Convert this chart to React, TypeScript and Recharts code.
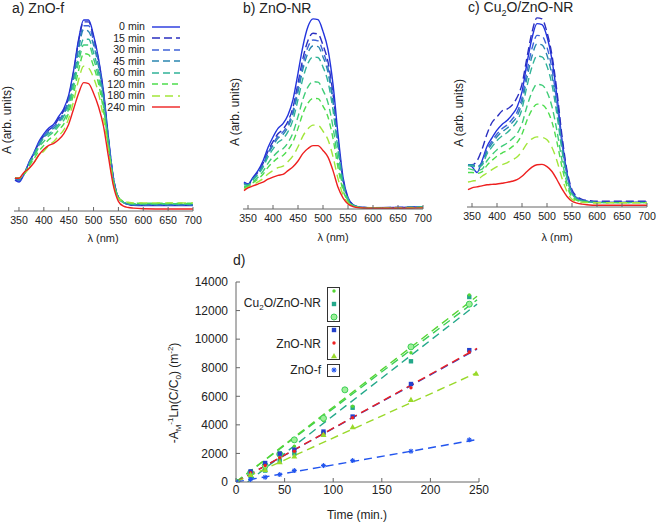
import React from "react";
import { LineChart, Line, XAxis, YAxis, ComposedChart, Scatter } from "recharts";

// longueurs d'onde (nm) communes aux trois spectres
const W = [342, 350, 360, 370, 380, 390, 400, 410, 420, 430, 440, 450, 460, 470, 480, 490, 500, 510, 520, 530, 540, 550, 560, 570, 580, 600, 650, 700];
const W_TICKS = [350, 400, 450, 500, 550, 600, 650, 700];

// a) ZnO-f  (absorbance, % de la hauteur du cadre)
const a0 = [16, 15, 19, 25, 30, 36, 40, 43, 45, 49, 53, 60, 73, 89, 99, 99, 91, 79, 62, 38, 17, 7, 4.5, 3.5, 3, 2.8, 2.8, 2.8];
const a15 = [16, 16, 19, 25, 30, 35, 39, 42, 44, 48, 52, 59, 72, 88, 98, 98, 90, 78, 61, 37, 17, 7, 4.5, 3.5, 3, 3, 3, 3];
const a30 = [17, 16, 19, 25, 30, 35, 39, 42, 44, 47, 51, 58, 70, 86, 96, 96, 88, 77, 60, 37, 17, 7, 4.5, 3.5, 3.2, 3.2, 3.2, 3.2];
const a45 = [17, 16, 19, 24, 29, 34, 38, 41, 43, 46, 50, 57, 69, 84, 94, 93, 86, 75, 59, 36, 16, 7, 4.5, 3.5, 3.2, 3.2, 3.2, 3.2];
const a60 = [17, 17, 19, 24, 29, 34, 38, 40, 42, 45, 49, 55, 66, 80, 89, 89, 82, 72, 56, 35, 16, 7, 4.5, 3.8, 3.5, 3.5, 3.5, 3.5];
const a90 = [17, 17, 19, 24, 28, 33, 36, 39, 41, 44, 47, 53, 64, 77, 86, 86, 79, 69, 54, 34, 15, 7, 4.5, 4, 3.8, 3.8, 3.8, 3.8];
const a120 = [17, 17, 19, 23, 27, 31, 34, 37, 39, 42, 45, 51, 61, 73, 81.5, 81, 75, 66, 52, 33, 15, 7, 5, 4.2, 4, 4, 4, 4];
const a180 = [17, 17, 19, 22, 25, 29, 31, 34, 36, 39, 42, 48, 57, 68, 75, 74, 69, 61, 48, 31, 14, 6.5, 5, 4.5, 4.2, 4.2, 4.2, 4.2];
const a240 = [17, 17, 20, 22, 25, 29, 32, 34, 35, 37, 40, 45, 53, 61, 66.5, 66, 61, 54, 44, 28, 13, 5, 2.5, 1.8, 1.5, 1.2, 1, 1];

// b) ZnO-NR
const b0 = [14, 13, 16.5, 20, 25, 32, 37.5, 42, 44.5, 49, 57, 70.7, 85, 95, 99, 98.6, 92.5, 83, 65, 39, 16.6, 6, 2.3, 1.2, 0.8, 0.7, 0.8, 1.2];
const b15 = [13.5, 12.8, 16, 19.2, 23.7, 30.1, 35.1, 39.2, 41.5, 45.7, 53, 65.5, 78.6, 87.8, 91.5, 91.1, 85.4, 76.6, 59.9, 35.8, 15.4, 5.6, 2.2, 1.1, 0.8, 0.7, 0.8, 1.1];
const b30 = [13.3, 12.7, 15.7, 18.8, 23.2, 29.2, 34, 37.9, 40.1, 44.2, 51.2, 63.1, 75.6, 84.4, 88, 87.6, 82.1, 73.6, 57.5, 34.4, 14.8, 5.4, 2.1, 1.1, 0.8, 0.65, 0.75, 1.1];
const b45 = [13.1, 12.6, 15.5, 18.5, 22.6, 28.5, 33, 36.8, 38.8, 42.8, 49.5, 60.9, 73, 81.4, 84.9, 84.6, 79.2, 71, 55.4, 33.1, 14.3, 5.3, 2, 1.1, 0.75, 0.65, 0.7, 1.1];
const b60 = [12.7, 12.4, 15.2, 17.9, 21.7, 27.1, 31.2, 34.7, 36.6, 40.3, 46.5, 57, 68.2, 76, 79.2, 78.9, 73.9, 66.2, 51.5, 30.7, 13.4, 5, 2, 1, 0.7, 0.6, 0.7, 1];
const b90 = [11.8, 12, 14.3, 16.5, 19.6, 23.8, 27.2, 29.9, 31.4, 34.6, 39.7, 48.1, 57.3, 63.6, 66.3, 66.1, 61.8, 55.3, 42.7, 25.3, 11.3, 4.3, 1.8, 1, 0.65, 0.55, 0.6, 0.9];
const b120 = [11.2, 11.7, 13.7, 15.6, 18.1, 21.7, 24.4, 26.6, 27.9, 30.8, 35.1, 42, 49.9, 55.2, 57.6, 57.5, 53.6, 47.9, 36.8, 21.6, 9.8, 3.9, 1.6, 0.9, 0.6, 0.5, 0.55, 0.8];
const b180 = [10.3, 11.3, 12.7, 14.1, 15.8, 18.2, 20, 21.5, 22.3, 24.7, 27.7, 32.4, 38.1, 41.8, 43.7, 43.6, 40.5, 36.1, 27.3, 15.8, 7.5, 3.2, 1.4, 0.8, 0.55, 0.45, 0.45, 0.7];
const b240 = [9.6, 11, 12, 13, 14, 15.5, 16.6, 17.5, 18, 20, 22, 25, 29, 31.5, 33, 33, 30.5, 27, 20, 11.3, 5.8, 2.6, 1.2, 0.7, 0.5, 0.4, 0.4, 0.6];

// c) Cu2O/ZnO-NR
const c0 = [22, 21, 18, 24, 31.5, 36, 40, 43, 45, 48, 52, 60, 75, 88, 95.5, 95, 88.7, 76.6, 57.5, 35, 17.7, 8, 4.7, 3.5, 3, 2.4, 2.4, 2.4];
const c15 = [22, 22, 24, 30, 38, 44, 47, 50, 51, 53, 57, 64, 78, 91, 98.5, 98, 91, 79, 60, 37, 19, 9, 5.5, 4, 3.5, 3, 3, 3];
const c30 = [22, 22, 21, 23.2, 30.1, 34.3, 38, 40.8, 42.7, 45.6, 49.3, 56.8, 70.7, 82.6, 89.4, 89, 83.2, 71.9, 54, 33, 16.7, 7.6, 4.6, 3.4, 2.9, 2.4, 2.4, 2.4];
const c45 = [22, 22, 21, 22.6, 29, 33, 36.6, 39.2, 41, 43.8, 47.3, 54.4, 67.4, 78.5, 84.9, 84.4, 79, 68.4, 51.5, 31.4, 16, 7.3, 4.5, 3.3, 2.9, 2.4, 2.4, 2.4];
const c60 = [21.5, 21.5, 20.5, 21.7, 27.6, 31.3, 34.6, 37, 38.7, 41.3, 44.6, 51.1, 63, 73, 78.6, 78.2, 73.3, 63.6, 47.9, 29.3, 14.9, 6.9, 4.3, 3.2, 2.8, 2.3, 2.3, 2.3];
const c90 = [20, 19.5, 19, 19.7, 24.1, 27.2, 29.8, 31.7, 33.2, 35.4, 38.1, 43.4, 52.5, 59.9, 63.9, 63.5, 59.9, 52.2, 39.5, 24.3, 12.5, 5.9, 3.8, 3, 2.6, 2.3, 2.3, 2.3];
const c120 = [18, 18, 17.5, 18.3, 21.7, 24.3, 26.5, 28.1, 29.4, 31.3, 33.5, 38, 45.2, 50.7, 53.6, 53.3, 50.6, 44.2, 33.7, 20.8, 10.8, 5.2, 3.5, 2.8, 2.5, 2.3, 2.3, 2.3];
const c180 = [13, 13.5, 14, 16, 17.7, 19.5, 21, 22, 23, 24.5, 26, 29, 33, 35.5, 36.5, 36.3, 35, 31, 24, 15, 8, 4, 3, 2.5, 2.3, 2.2, 2.2, 2.2];
const c240 = [9, 10, 10.5, 11, 11.6, 11.8, 12, 12.4, 12.8, 13.4, 14.2, 16, 18.5, 20.8, 22, 22.2, 21, 18.5, 14.2, 9.4, 5.5, 3, 2, 1.5, 1.2, 0.9, 0.9, 0.9];

const SERIES_KEYS = ["0", "15", "30", "45", "60", "90", "120", "180", "240"];
const LEGEND_KEYS = ["0", "15", "30", "45", "60", "120", "180", "240"];

// d) cinétique
const T = [0, 15, 30, 45, 60, 90, 120, 180, 240];
const cuDot = [0, 500, 1000, 1700, 2500, 4300, 5300, 9050, 13100];
const cuSquare = [0, 400, 800, 1500, 2000, 3400, 5200, 8450, 12950];
const cuCircleT = [0, 15, 30, 45, 60, 90, 112, 180, 240];
const cuCircle = [0, 650, 1150, 1950, 2950, 4460, 6450, 9460, 12450];
const nrSquare = [0, 740, 1330, 1980, 2260, 3530, 4580, 6860, 9230];
const nrRed = [0, 650, 1150, 1700, 2150, 3350, 4500, 6600, 9100];
const nrTriT = [0, 15, 30, 45, 60, 90, 120, 180, 247];
const nrTri = [0, 500, 850, 1400, 1800, 3300, 3850, 5750, 7600];
const fBlue = [0, 180, 330, 520, 800, 1150, 1500, 2150, 2950];

const FIT_T = [0, 248];
const fitCuDot = [0, 13000];
const fitCuSquareT = [12, 248];
const fitCuSquare = [0, 12450];
const fitCuCircle = [0, 12750];
const fitNrSquare = [0, 9300];
const fitNrRed = [0, 9350];
const fitNrTri = [0, 7650];
const fitF = [0, 2970];

const T_TICKS = [0, 50, 100, 150, 200, 250];
const V_TICKS = [0, 2000, 4000, 6000, 8000, 10000, 12000, 14000];

const FONT = "'Liberation Sans', Arial, sans-serif";
const FRAME = "#666";

const STYLE: Record<string, { color: string; dash?: string }> = {
  "0": { color: "#2233dd" },
  "15": { color: "#2a2fc0", dash: "8 4" },
  "30": { color: "#3f63d8", dash: "7 4" },
  "45": { color: "#2a86b0", dash: "7 4" },
  "60": { color: "#30b398", dash: "7 4" },
  "90": { color: "#3fcc78", dash: "7 4" },
  "120": { color: "#4ddd4d", dash: "6 4" },
  "180": { color: "#a2e63a", dash: "8 5" },
  "240": { color: "#ee2020" },
};

function buildRows(series: number[][]) {
  return W.map((w, i) => {
    const r: Record<string, number> = { w };
    series.forEach((s, k) => (r["s" + SERIES_KEYS[k]] = s[i]));
    return r;
  });
}

function pairs(ts: number[], vs: number[]) {
  return ts.map((t, i) => ({ t, v: vs[i] }));
}

function Spectrum({ left, width, margin, series }: { left: number; width: number; margin: any; series: number[][] }) {
  const rows = buildRows(series);
  return (
    <div style={{ position: "absolute", left, top: 0 }}>
      <LineChart width={width} height={250} data={rows} margin={margin}>
        <XAxis xAxisId="b" dataKey="w" type="number" domain={[340, 700]} ticks={W_TICKS} interval={0}
          allowDataOverflow height={30} tickSize={-4} tickMargin={9} stroke={FRAME}
          tick={{ fontSize: 10.6, fill: "#222", fontFamily: FONT }} />
        <XAxis xAxisId="t" orientation="top" dataKey="w" type="number" domain={[340, 700]} ticks={W_TICKS}
          interval={0} allowDataOverflow height={0} tickSize={-4} tick={false} stroke={FRAME} />
        <YAxis yAxisId="l" type="number" domain={[0, 100]} allowDataOverflow width={0} tick={false} tickLine={false} stroke={FRAME} />
        <YAxis yAxisId="r" orientation="right" type="number" domain={[0, 100]} width={0} tick={false} tickLine={false} stroke={FRAME} />
        {SERIES_KEYS.map((k) => (
          <Line key={k} xAxisId="b" yAxisId="l" type="monotone" dataKey={"s" + k} stroke={STYLE[k].color}
            strokeWidth={1.4} strokeDasharray={STYLE[k].dash} dot={false} isAnimationActive={false} />
        ))}
      </LineChart>
    </div>
  );
}

const txt = (extra: React.CSSProperties): React.CSSProperties => ({
  position: "absolute", fontFamily: FONT, color: "#222", whiteSpace: "nowrap", lineHeight: 1, ...extra,
});

function RotLabel({ cx, cy, size, children }: { cx: number; cy: number; size: number; children: React.ReactNode }) {
  return (
    <div style={txt({ left: cx, top: cy, fontSize: size, transform: "translate(-50%, -50%) rotate(-90deg)" })}>{children}</div>
  );
}

function SpecLegend() {
  return (
    <div style={{ position: "absolute", left: 96, top: 21 }}>
      {LEGEND_KEYS.map((k) => (
        <div key={k} style={{ display: "flex", alignItems: "center", height: 11.5 }}>
          <span style={txt({ position: "static", width: 49, textAlign: "right", fontSize: 10.6 })}>{k} min</span>
          <svg width={36} height={10} style={{ marginLeft: 7 }}>
            <line x1={0} x2={28} y1={5} y2={5} stroke={STYLE[k].color} strokeWidth={1.4} strokeDasharray={STYLE[k].dash} />
          </svg>
        </div>
      ))}
    </div>
  );
}

const mk = {
  dot: (c: string) => (p: any) => <circle cx={p.cx} cy={p.cy} r={1.7} fill={c} />,
  square: (c: string) => (p: any) => <rect x={p.cx - 2.2} y={p.cy - 2.2} width={4.4} height={4.4} fill={c} />,
  circle: (c: string) => (p: any) => <circle cx={p.cx} cy={p.cy} r={3} fill="#9ef09a" stroke={c} strokeWidth={1} />,
  tri: (c: string) => (p: any) => <path d={`M${p.cx},${p.cy - 3}L${p.cx + 3},${p.cy + 2.2}L${p.cx - 3},${p.cy + 2.2}Z`} fill={c} />,
  star: (c: string) => (p: any) => (
    <g stroke={c} strokeWidth={1.1}>
      <line x1={p.cx - 2.5} x2={p.cx + 2.5} y1={p.cy} y2={p.cy} />
      <line x1={p.cx} x2={p.cx} y1={p.cy - 2.5} y2={p.cy + 2.5} />
      <line x1={p.cx - 1.8} x2={p.cx + 1.8} y1={p.cy - 1.8} y2={p.cy + 1.8} />
      <line x1={p.cx - 1.8} x2={p.cx + 1.8} y1={p.cy + 1.8} y2={p.cy - 1.8} />
    </g>
  ),
};

const C = {
  cuDot: "#55d633", cuSquare: "#23a88a", cuCircle: "#3ccf55",
  nrSquare: "#2340cc", nrRed: "#ee2020", nrTri: "#99d92a", f: "#2255ee",
};

const SCATTERS = [
  { ts: T, vs: cuSquare, shape: mk.square(C.cuSquare) },
  { ts: T, vs: cuDot, shape: mk.dot(C.cuDot) },
  { ts: cuCircleT, vs: cuCircle, shape: mk.circle(C.cuCircle) },
  { ts: T, vs: nrSquare, shape: mk.square(C.nrSquare) },
  { ts: T, vs: nrRed, shape: mk.dot(C.nrRed) },
  { ts: nrTriT, vs: nrTri, shape: mk.tri(C.nrTri) },
  { ts: T, vs: fBlue, shape: mk.star(C.f) },
];

const FITS = [
  { ts: fitCuSquareT, vs: fitCuSquare, color: C.cuSquare },
  { ts: FIT_T, vs: fitCuCircle, color: C.cuCircle },
  { ts: FIT_T, vs: fitCuDot, color: C.cuDot },
  { ts: FIT_T, vs: fitNrSquare, color: C.nrSquare },
  { ts: FIT_T, vs: fitNrRed, color: C.nrRed },
  { ts: FIT_T, vs: fitNrTri, color: C.nrTri },
  { ts: FIT_T, vs: fitF, color: C.f },
];

function Kinetics() {
  return (
    <div style={{ position: "absolute", left: 160, top: 250 }}>
      <ComposedChart width={340} height={273} margin={{ top: 32, right: 21, bottom: 11, left: 31 }}>
        <XAxis xAxisId="b" dataKey="t" type="number" domain={[0, 250]} ticks={T_TICKS} interval={0} allowDataOverflow
          height={30} tickSize={-4} tickMargin={7} stroke={FRAME} tick={{ fontSize: 12, fill: "#222", fontFamily: FONT }} />
        <XAxis xAxisId="t" orientation="top" dataKey="t" type="number" domain={[0, 250]} ticks={T_TICKS} interval={0}
          height={0} tickSize={-4} tick={false} stroke={FRAME} />
        <YAxis yAxisId="l" dataKey="v" type="number" domain={[0, 14000]} ticks={V_TICKS} interval={0} allowDataOverflow
          width={45} tickSize={-4} tickMargin={12} stroke={FRAME} tick={{ fontSize: 12, fill: "#222", fontFamily: FONT }} />
        <YAxis yAxisId="r" orientation="right" dataKey="v" type="number" domain={[0, 14000]} ticks={V_TICKS} interval={0}
          width={0} tickSize={-4} tick={false} stroke={FRAME} />
        {FITS.map((f, i) => (
          <Line key={"f" + i} xAxisId="b" yAxisId="l" data={pairs(f.ts, f.vs)} dataKey="v" type="linear" stroke={f.color}
            strokeWidth={1.4} strokeDasharray="8 5" dot={false} isAnimationActive={false} />
        ))}
        {SCATTERS.map((s, i) => (
          <Scatter key={"s" + i} xAxisId="b" yAxisId="l" data={pairs(s.ts, s.vs)} dataKey="v" shape={s.shape}
            isAnimationActive={false} />
        ))}
      </ComposedChart>
    </div>
  );
}

function KinLegend() {
  const box: React.CSSProperties = { position: "absolute", left: 327, width: 13, border: "1px solid #333", boxSizing: "border-box" };
  const glyph = (top: number, node: React.ReactNode) => (
    <svg style={{ position: "absolute", left: 329, top: top - 5 }} width={10} height={10}>{node}</svg>
  );
  return (
    <>
      <div style={txt({ right: 658 - 321, top: 297, fontSize: 12 })}>
        Cu<sub style={{ fontSize: 8 }}>2</sub>O/ZnO-NR
      </div>
      <div style={{ ...box, top: 287, height: 35 }} />
      {glyph(291, mk.dot(C.cuDot)({ cx: 5, cy: 5 }))}
      {glyph(304, mk.square(C.cuSquare)({ cx: 5, cy: 5 }))}
      {glyph(317, mk.circle(C.cuCircle)({ cx: 5, cy: 5 }))}
      <div style={txt({ right: 658 - 321, top: 338, fontSize: 12 })}>ZnO-NR</div>
      <div style={{ ...box, top: 326, height: 34 }} />
      {glyph(330, mk.square(C.nrSquare)({ cx: 5, cy: 5 }))}
      {glyph(343, mk.dot(C.nrRed)({ cx: 5, cy: 5 }))}
      {glyph(356, mk.tri(C.nrTri)({ cx: 5, cy: 5 }))}
      <div style={txt({ right: 658 - 321, top: 364, fontSize: 12 })}>ZnO-f</div>
      <div style={{ ...box, top: 364, height: 13 }} />
      {glyph(370, mk.star(C.f)({ cx: 5, cy: 5 }))}
    </>
  );
}

export default function App() {
  return (
    <div style={{ position: "absolute", left: 0, top: 0, width: 658, height: 523, background: "#fff", overflow: "hidden" }}>
      <Spectrum left={0} width={215} margin={{ top: 18, right: 22, bottom: 9, left: 14 }}
        series={[a0, a15, a30, a45, a60, a90, a120, a180, a240]} />
      <Spectrum left={215} width={220} margin={{ top: 17, right: 12, bottom: 11, left: 28 }}
        series={[b0, b15, b30, b45, b60, b90, b120, b180, b240]} />
      <Spectrum left={435} width={223} margin={{ top: 15, right: 11, bottom: 13, left: 32 }}
        series={[c0, c15, c30, c45, c60, c90, c120, c180, c240]} />
      <SpecLegend />

      <div style={txt({ left: 12, top: 1, fontSize: 14 })}>a) ZnO-f</div>
      <div style={txt({ left: 243, top: 1, fontSize: 14 })}>b) ZnO-NR</div>
      <div style={txt({ left: 468, top: 0, fontSize: 14 })}>
        c) Cu<sub style={{ fontSize: 9 }}>2</sub>O/ZnO-NR
      </div>

      <RotLabel cx={7} cy={120} size={12}>A (arb. units)</RotLabel>
      <RotLabel cx={235} cy={112} size={12}>A (arb. units)</RotLabel>
      <RotLabel cx={459} cy={113} size={12}>A (arb. units)</RotLabel>

      <div style={txt({ left: 103, top: 238, fontSize: 11, transform: "translate(-50%, -50%)" })}>λ (nm)</div>
      <div style={txt({ left: 333, top: 237, fontSize: 11, transform: "translate(-50%, -50%)" })}>λ (nm)</div>
      <div style={txt({ left: 557, top: 237, fontSize: 11, transform: "translate(-50%, -50%)" })}>λ (nm)</div>

      <Kinetics />
      <KinLegend />
      <div style={txt({ left: 233, top: 253, fontSize: 14 })}>d)</div>
      <RotLabel cx={175} cy={393} size={12}>
        -A<sub style={{ fontSize: 8 }}>M</sub><sup style={{ fontSize: 8 }}>-1</sup>Ln(C/C<sub style={{ fontSize: 8 }}>0</sub>) (m<sup style={{ fontSize: 8 }}>-2</sup>)
      </RotLabel>
      <div style={txt({ left: 357, top: 515, fontSize: 12, transform: "translate(-50%, -50%)" })}>Time (min.)</div>
    </div>
  );
}
